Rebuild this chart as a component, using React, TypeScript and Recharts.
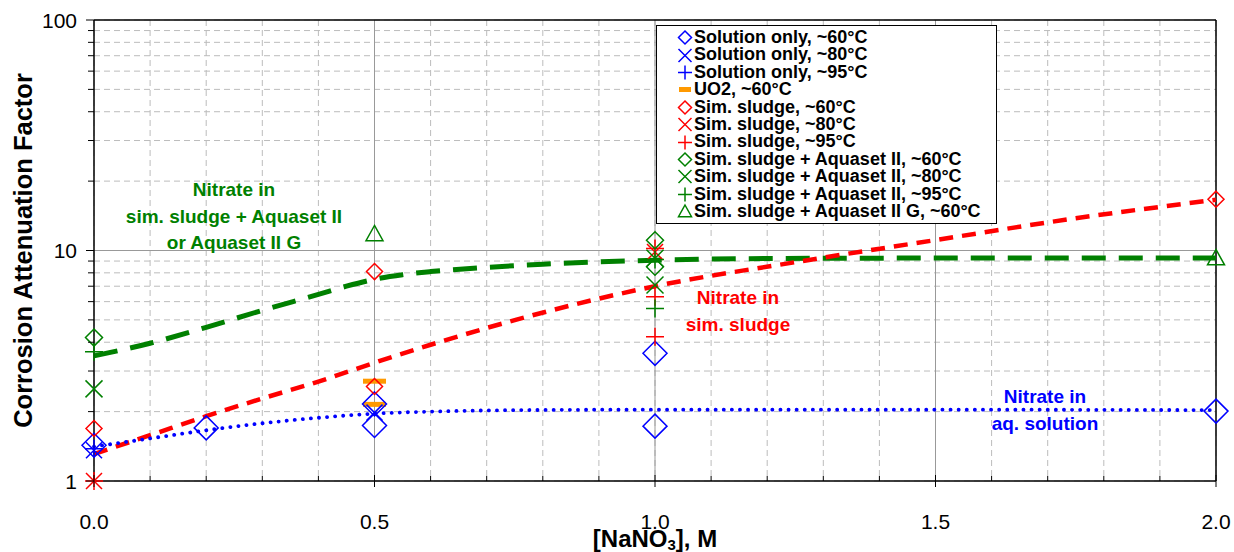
import React from 'react';
import {
  ComposedChart,
  Line,
  Scatter,
  XAxis,
  YAxis,
  CartesianGrid,
  ReferenceLine,
  Label,
} from 'recharts';

// axis ticks
const xTicks = [0, 0.1, 0.2, 0.3, 0.4, 0.5, 0.6, 0.7, 0.8, 0.9, 1.0, 1.1, 1.2, 1.3, 1.4, 1.5, 1.6, 1.7, 1.8, 1.9, 2.0];
const xMajor = [0, 0.5, 1.0, 1.5, 2.0];
const yTicks = [1, 2, 3, 4, 5, 6, 7, 8, 9, 10, 20, 30, 40, 50, 60, 70, 80, 90, 100];
const yMajor = [1, 10, 100];

// measured points
const sol60 = [
  { x: 0, y: 1.43 },
  { x: 0.2, y: 1.7 },
  { x: 0.5, y: 2.16 },
  { x: 0.5, y: 1.74 },
  { x: 1.0, y: 3.58 },
  { x: 1.0, y: 1.73 },
  { x: 2.0, y: 2.01 },
];
const sol80 = [{ x: 0, y: 1.36 }, { x: 0.5, y: 1.98 }];
const sol95 = [{ x: 0, y: 1.38 }];
const uo2 = [{ x: 0.5, y: 2.71 }, { x: 0.5, y: 2.15 }];
const sl60 = [{ x: 0, y: 1.69 }, { x: 0.5, y: 8.1 }, { x: 0.5, y: 2.57 }, { x: 2.0, y: 16.7 }];
const sl80 = [{ x: 0, y: 1.0 }, { x: 1.0, y: 9.85 }];
const sl95 = [{ x: 0, y: 1.0 }, { x: 1.0, y: 10.2 }, { x: 1.0, y: 6.3 }, { x: 1.0, y: 4.23 }];
const aq60 = [{ x: 0, y: 4.19 }, { x: 1.0, y: 11.07 }, { x: 1.0, y: 8.5 }];
const aq80 = [{ x: 0, y: 2.51 }, { x: 1.0, y: 9.26 }, { x: 1.0, y: 7.08 }];
const aq95 = [{ x: 0, y: 3.64 }, { x: 1.0, y: 9.15 }, { x: 1.0, y: 5.6 }];
const aqG60 = [{ x: 0.5, y: 11.8 }, { x: 2.0, y: 9.28 }];

// trend curves
const blueFit = [
  { x: 0, y: 1.41 }, { x: 0.1, y: 1.53 }, { x: 0.2, y: 1.66 }, { x: 0.3, y: 1.78 },
  { x: 0.4, y: 1.88 }, { x: 0.5, y: 1.96 }, { x: 0.6, y: 2.0 }, { x: 0.75, y: 2.03 },
  { x: 1.0, y: 2.04 }, { x: 1.5, y: 2.04 }, { x: 2.0, y: 2.03 },
];
const redFit = [
  { x: 0, y: 1.31 }, { x: 0.1, y: 1.58 }, { x: 0.2, y: 1.91 }, { x: 0.3, y: 2.28 },
  { x: 0.4, y: 2.7 }, { x: 0.5, y: 3.26 }, { x: 0.6, y: 3.9 }, { x: 0.75, y: 4.99 },
  { x: 1.0, y: 7.0 }, { x: 1.25, y: 8.9 }, { x: 1.5, y: 11.1 }, { x: 1.75, y: 13.8 },
  { x: 2.0, y: 16.6 },
];
const greenFit = [
  { x: 0, y: 3.49 }, { x: 0.1, y: 3.96 }, { x: 0.2, y: 4.64 }, { x: 0.3, y: 5.5 },
  { x: 0.4, y: 6.45 }, { x: 0.45, y: 7.0 }, { x: 0.5, y: 7.5 }, { x: 0.55, y: 7.85 },
  { x: 0.6, y: 8.1 }, { x: 0.7, y: 8.45 }, { x: 0.8, y: 8.72 }, { x: 0.9, y: 8.92 },
  { x: 1.0, y: 9.08 }, { x: 1.2, y: 9.23 }, { x: 1.5, y: 9.27 }, { x: 2.0, y: 9.27 },
];

const BLUE = '#0000ff';
const RED = '#ff0000';
const GREEN = '#008000';
const ORANGE = '#ff9900';
const FONT = '"Liberation Sans", Arial, sans-serif';

type Kind = 'diamond' | 'x' | 'plus' | 'bar' | 'triangle';

function Glyph({ kind, cx, cy, color, r }: { kind: Kind; cx: number; cy: number; color: string; r: number }) {
  if (cx == null || cy == null) return null;
  switch (kind) {
    case 'diamond':
      return (
        <path
          d={`M${cx},${cy - r}L${cx + r},${cy}L${cx},${cy + r}L${cx - r},${cy}Z`}
          fill="none"
          stroke={color}
          strokeWidth={1.5}
        />
      );
    case 'x':
      return (
        <path
          d={`M${cx - r},${cy - r}L${cx + r},${cy + r}M${cx - r},${cy + r}L${cx + r},${cy - r}`}
          stroke={color}
          strokeWidth={1.5}
        />
      );
    case 'plus':
      return (
        <path d={`M${cx - r},${cy}L${cx + r},${cy}M${cx},${cy - r}L${cx},${cy + r}`} stroke={color} strokeWidth={1.5} />
      );
    case 'bar':
      return <rect x={cx - r} y={cy - 2.5} width={2 * r} height={5} fill={color} />;
    case 'triangle':
      return (
        <path
          d={`M${cx},${cy - r}L${cx + r},${cy + r * 0.8}L${cx - r},${cy + r * 0.8}Z`}
          fill="none"
          stroke={color}
          strokeWidth={1.5}
        />
      );
  }
  return null;
}

const shape = (kind: Kind, color: string, r: number) => (p: any) => (
  <Glyph kind={kind} cx={p.cx} cy={p.cy} color={color} r={r} />
);

const legendItems: { name: string; kind: Kind; color: string }[] = [
  { name: 'Solution only, ~60°C', kind: 'diamond', color: BLUE },
  { name: 'Solution only, ~80°C', kind: 'x', color: BLUE },
  { name: 'Solution only, ~95°C', kind: 'plus', color: BLUE },
  { name: 'UO2, ~60°C', kind: 'bar', color: ORANGE },
  { name: 'Sim. sludge, ~60°C', kind: 'diamond', color: RED },
  { name: 'Sim. sludge, ~80°C', kind: 'x', color: RED },
  { name: 'Sim. sludge, ~95°C', kind: 'plus', color: RED },
  { name: 'Sim. sludge + Aquaset II, ~60°C', kind: 'diamond', color: GREEN },
  { name: 'Sim. sludge + Aquaset II, ~80°C', kind: 'x', color: GREEN },
  { name: 'Sim. sludge + Aquaset II, ~95°C', kind: 'plus', color: GREEN },
  { name: 'Sim. sludge + Aquaset II G, ~60°C', kind: 'triangle', color: GREEN },
];

const isMajor = (v: number, list: number[]) => list.some((m) => Math.abs(m - v) < 1e-6);

const XTick = ({ x, y, payload }: any) => {
  const major = isMajor(payload.value, xMajor);
  return (
    <g>
      <line x1={x} x2={x} y1={major ? y - 6 : y - 5} y2={major ? y + 6 : y} stroke="#000" strokeWidth={1} />
      {major && (
        <text x={x} y={y + 48} textAnchor="middle" fontSize={21} fontFamily={FONT} fill="#000">
          {payload.value.toFixed(1)}
        </text>
      )}
    </g>
  );
};

const YTick = ({ x, y, payload }: any) => {
  const major = isMajor(payload.value, yMajor);
  return (
    <g>
      <line x1={major ? x - 8 : x - 6} x2={x} y1={y} y2={y} stroke="#000" strokeWidth={1} />
      {major && (
        <text x={x - 17} y={y + 7.5} textAnchor="end" fontSize={21} fontFamily={FONT} fill="#000">
          {payload.value}
        </text>
      )}
    </g>
  );
};

const Note = ({ left, top, color, lines }: { left: number; top: number; color: string; lines: string[] }) => (
  <div
    style={{
      position: 'absolute',
      left: left - 150,
      top,
      width: 300,
      textAlign: 'center',
      color,
      fontWeight: 'bold',
      fontSize: 19,
      lineHeight: '26.5px',
      fontFamily: FONT,
    }}
  >
    {lines.map((l) => (
      <div key={l}>{l}</div>
    ))}
  </div>
);

export default function App() {
  return (
    <div style={{ position: 'absolute', left: 0, top: 0, width: 1234, height: 552, background: '#fff', fontFamily: FONT }}>
      <ComposedChart width={1234} height={552} margin={{ top: 20, right: 18, bottom: 0, left: 0 }}>
        <CartesianGrid stroke="#bcbcbc" strokeDasharray="6 4" />
        <XAxis
          type="number"
          dataKey="x"
          domain={[0, 2]}
          ticks={xTicks}
          interval={0}
          height={71}
          tickSize={0}
          tickMargin={0}
          tickLine={false}
          tick={<XTick />}
          axisLine={{ stroke: '#000', strokeWidth: 1.5 }}
        >
          <Label
            content={({ viewBox }: any) => (
              <text
                x={viewBox.x + viewBox.width / 2}
                y={viewBox.y + 66}
                textAnchor="middle"
                fontSize={24}
                fontWeight="bold"
                fontFamily={FONT}
                fill="#000"
              >
                [NaNO
                <tspan fontSize={15} dy={3}>3</tspan>
                <tspan dy={-3}>], M</tspan>
              </text>
            )}
          />
        </XAxis>
        <YAxis
          type="number"
          scale="log"
          domain={[1, 100]}
          ticks={yTicks}
          interval={0}
          width={94}
          tickSize={0}
          tickMargin={0}
          tickLine={false}
          tick={<YTick />}
          axisLine={{ stroke: '#000', strokeWidth: 1.5 }}
        >
          <Label
            content={({ viewBox }: any) => {
              const cx = 23;
              const cy = viewBox.y + viewBox.height / 2;
              return (
                <text
                  x={cx}
                  y={cy}
                  transform={`rotate(-90 ${cx} ${cy})`}
                  textAnchor="middle"
                  dominantBaseline="central"
                  fontSize={25.5}
                  fontWeight="bold"
                  fontFamily={FONT}
                  fill="#000"
                >
                  Corrosion Attenuation Factor
                </text>
              );
            }}
          />
        </YAxis>

        <ReferenceLine y={10} stroke="#999" strokeWidth={1} />
        <ReferenceLine x={0.5} stroke="#999" strokeWidth={1} />
        <ReferenceLine x={1.0} stroke="#999" strokeWidth={1} />
        <ReferenceLine x={1.5} stroke="#999" strokeWidth={1} />
        <ReferenceLine y={100} stroke="#000" strokeWidth={1.5} />
        <ReferenceLine x={2.0} stroke="#000" strokeWidth={1.5} />

        <Line data={greenFit} dataKey="y" type="monotone" stroke={GREEN} strokeWidth={5} strokeDasharray="24 13" dot={false} isAnimationActive={false} />
        <Line data={redFit} dataKey="y" type="monotone" stroke={RED} strokeWidth={4.5} strokeDasharray="14 9" dot={false} isAnimationActive={false} />
        <Line
          data={blueFit}
          dataKey="y"
          type="monotone"
          stroke={BLUE}
          strokeWidth={3.8}
          strokeDasharray="0.1 8"
          strokeLinecap="round"
          dot={false}
          isAnimationActive={false}
        />

        <Scatter data={uo2} dataKey="y" shape={shape('bar', ORANGE, 11.5)} isAnimationActive={false} />
        <Scatter data={sol60} dataKey="y" shape={shape('diamond', BLUE, 12)} isAnimationActive={false} />
        <Scatter data={sol80} dataKey="y" shape={shape('x', BLUE, 8)} isAnimationActive={false} />
        <Scatter data={sol95} dataKey="y" shape={shape('plus', BLUE, 9)} isAnimationActive={false} />
        <Scatter data={sl60} dataKey="y" shape={shape('diamond', RED, 8)} isAnimationActive={false} />
        <Scatter data={sl80} dataKey="y" shape={shape('x', RED, 8)} isAnimationActive={false} />
        <Scatter data={sl95} dataKey="y" shape={shape('plus', RED, 9)} isAnimationActive={false} />
        <Scatter data={aq60} dataKey="y" shape={shape('diamond', GREEN, 8.5)} isAnimationActive={false} />
        <Scatter data={aq80} dataKey="y" shape={shape('x', GREEN, 8.5)} isAnimationActive={false} />
        <Scatter data={aq95} dataKey="y" shape={shape('plus', GREEN, 9)} isAnimationActive={false} />
        <Scatter data={aqG60} dataKey="y" shape={shape('triangle', GREEN, 8.5)} isAnimationActive={false} />
      </ComposedChart>

      <div
        style={{
          position: 'absolute',
          left: 656,
          top: 25,
          width: 339,
          height: 194,
          border: '1px solid #000',
          background: '#fff',
          paddingTop: 3,
          boxSizing: 'content-box',
        }}
      >
        {legendItems.map((it) => (
          <div key={it.name} style={{ display: 'flex', alignItems: 'center', height: 17.4 }}>
            <svg width={18} height={17} style={{ marginLeft: 19, flex: 'none' }}>
              <Glyph kind={it.kind} cx={9} cy={8.5} color={it.color} r={it.kind === 'bar' ? 6 : it.kind === 'plus' ? 7 : 6.5} />
            </svg>
            <span style={{ marginLeft: 0, fontSize: 18, fontWeight: 'bold', whiteSpace: 'nowrap', lineHeight: '17.4px' }}>
              {it.name}
            </span>
          </div>
        ))}
      </div>

      <Note left={234} top={177} color={GREEN} lines={['Nitrate in', 'sim. sludge + Aquaset II', 'or Aquaset II G']} />
      <Note left={738} top={285} color={RED} lines={['Nitrate in', 'sim. sludge']} />
      <Note left={1045} top={384} color={BLUE} lines={['Nitrate in', 'aq. solution']} />
    </div>
  );
}
